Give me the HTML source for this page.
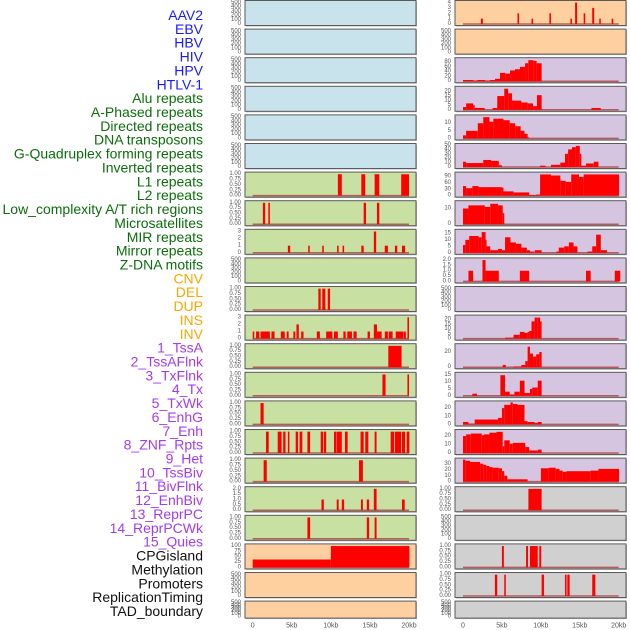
<!DOCTYPE html>
<html><head><meta charset="utf-8"><style>
html,body{margin:0;padding:0;background:#fff;}
svg{display:block;font-family:"Liberation Sans",sans-serif;}
</style></head><body>
<svg id="chart" width="630" height="630" viewBox="0 0 630 630" xmlns="http://www.w3.org/2000/svg"></svg>
<script>
// ---------- data ----------
const labelNames = ["AAV2","EBV","HBV","HIV","HPV","HTLV-1","Alu repeats","A-Phased repeats","Directed repeats","DNA transposons","G-Quadruplex forming repeats","Inverted repeats","L1 repeats","L2 repeats","Low_complexity A/T rich regions","Microsatellites","MIR repeats","Mirror repeats","Z-DNA motifs","CNV","DEL","DUP","INS","INV","1_TssA","2_TssAFlnk","3_TxFlnk","4_Tx","5_TxWk","6_EnhG","7_Enh","8_ZNF_Rpts","9_Het","10_TssBiv","11_BivFlnk","12_EnhBiv","13_ReprPC","14_ReprPCWk","15_Quies","CPGisland","Methylation","Promoters","ReplicationTiming","TAD_boundary"];
const labelGroups = [0,0,0,0,0,0,1,1,1,1,1,1,1,1,1,1,1,1,1,2,2,2,2,2,3,3,3,3,3,3,3,3,3,3,3,3,3,3,3,4,4,4,4,4];
const xTickValues = [0,5,10,15,20];
const xTickLabels = ["0","5kb","10kb","15kb","20kb"];

const ticks500 = [0,100,200,300,400,500];
const ticks1 = [0,0.25,0.5,0.75,1];
const ticks1Labels = ["0.00","0.25","0.50","0.75","1.00"];
const ticks3 = [0,1,2,3];
const ticks2 = [0,0.5,1,1.5,2];
const ticks2Labels = ["0.0","0.5","1.0","1.5","2.0"];

// left column segments [startKb, endKb, value]
const leftL1 = [[10.9,11.4,1],[13.9,14.4,1],[15.6,16.2,1],[19.0,20.0,1]];
const leftL2 = [[1.3,1.6,1],[2.0,2.2,1],[14.2,14.5,1],[15.9,16.2,1]];
const leftLowComplex = [[4.5,4.8,1],[7.1,7.3,1],[8.9,9.1,1],[10.8,11.0,1],[11.5,11.7,1],[13.9,14.2,1],[15.5,15.8,3],[16.9,17.3,1],[18.2,18.5,1],[19.1,19.5,1]];
const leftMIR = [[8.4,8.7,1],[8.9,9.3,1],[9.6,9.9,1]];
const leftMirror = [[0,0.2,1],[0.43,0.85,1],[1.0,2.2,1],[2.4,2.8,1],[3.6,4.1,1],[4.35,4.6,1],[5.2,5.45,1],[5.6,5.9,2],[6.2,6.5,1],[8.2,8.6,1],[9.4,10.2,1],[10.4,10.9,1],[11.6,11.9,1],[12.1,12.7,1],[12.9,13.3,1],[14.7,15.0,1],[15.5,15.9,2],[15.9,16.5,1],[16.9,17.3,1],[17.4,17.9,1],[18.3,19.3,1],[19.35,19.6,1],[19.8,20.0,3]];
const leftTssA = [[17.35,19.05,1]];
const leftTssAFlnk = [[16.6,17.0,1],[19.8,20.0,1]];
const leftTxFlnk = [[1.0,1.4,1]];
const leftTx = [[1.7,2.05,1],[3.2,3.7,1],[3.9,4.2,1],[4.5,4.7,1],[5.5,5.8,1],[6.0,6.35,1],[7.0,7.35,1],[8.7,9.0,1],[9.1,9.4,1],[10.4,10.7,1],[10.75,11.4,1],[11.8,12.15,1],[13.8,14.2,1],[14.4,14.8,1],[15.6,15.85,1],[17.65,18.1,1],[18.2,19.0,1],[19.1,19.5,1],[19.7,20.05,1]];
const leftTxWk = [[1.4,1.8,1],[13.6,14.1,1]];
const leftEnhG = [[8.8,9.1,1],[10.75,11.0,1],[11.4,11.7,1],[13.85,14.1,1],[14.6,14.9,1],[15.5,15.85,2],[19.1,19.45,1]];
const leftEnh = [[7.0,7.35,1],[14.6,14.9,1],[15.6,15.85,1]];
const leftZNF = [[0,10,37],[10,20.05,100]];

// right column segments
const rightAAV2 = [[2.3,2.55,1],[7.0,7.2,2],[8.8,9.0,1],[11.1,11.3,2],[13.8,14.0,1],[14.4,14.65,4],[15.5,15.7,2],[16.6,16.85,3],[17.5,17.7,1],[19.1,19.3,1]];
const rightHIV = [[0,1.33,5],[1.33,1.84,3],[1.84,2.83,5],[2.83,3.47,3],[3.47,4.11,5],[4.11,4.75,10],[4.75,5.4,35],[5.4,6.04,32],[6.04,6.68,45],[6.68,7.32,50],[7.32,7.97,60],[7.97,8.39,75],[8.39,9.04,88],[9.04,9.46,85],[9.46,10.1,75]];
const rightHPV = [[0,0.4,3],[0.4,1.3,7],[1.3,1.5,5],[1.5,2.8,2],[3.8,4.4,2],[4.4,5.3,15],[5.3,5.8,23],[5.8,6.3,18],[6.3,7.5,10],[7.5,8.3,8],[8.3,9.0,7],[9.0,9.5,4],[9.5,10.1,16],[16.5,17.7,2]];
const rightAlu = [[0,0.4,2],[0.4,1.9,5],[1.9,2.6,10],[2.6,3.4,14],[3.4,3.9,11],[3.9,5.2,13],[5.2,6.0,12],[6.0,6.7,10],[6.7,7.4,8],[7.4,7.9,5],[7.9,8.3,3],[8.3,8.4,1]];
const rightDirected = [[0,0.4,12],[0.4,2.6,9],[2.6,3.6,16],[3.6,4.6,14],[4.6,5.0,4],[9.9,10.6,3],[11.3,12.5,5],[12.5,13.1,10],[13.1,13.5,30],[13.5,14.0,40],[14.0,14.5,45],[14.5,15.0,48],[15.0,15.2,30],[15.2,15.8,3],[15.8,16.8,8],[16.8,17.4,12]];
const rightGQuad = [[0,0.4,45],[0.4,1.2,35],[1.2,2.0,45],[2.0,5.0,40],[5.0,5.2,38],[5.2,6.5,20],[6.5,8.5,15],[8.5,9.4,3],[9.4,9.9,5],[9.9,11.3,100],[11.3,12.5,95],[12.5,13.2,70],[13.2,13.9,65],[13.9,14.9,100],[14.9,15.5,88],[15.5,20.05,100]];
const rightLowComplex = [[0,0.7,10],[0.7,2.8,12],[2.8,3.5,11],[3.5,4.5,13],[4.5,5.1,12],[5.1,5.3,7]];
const rightMIR = [[0,0.3,6],[0.3,0.8,10],[0.8,2.0,13],[2.0,2.4,12],[2.4,2.9,16],[2.9,3.0,10],[3.0,3.5,5],[3.5,4.5,2],[4.5,5.0,3],[5.0,5.4,2],[5.4,6.1,12],[6.1,6.8,8],[6.8,7.5,7],[7.5,8.2,4],[8.2,8.6,2],[8.6,9.1,1],[9.2,10.1,2],[12.0,12.3,1],[12.3,13.0,4],[13.0,13.6,5],[13.6,14.2,8],[14.2,14.7,5],[16.0,16.6,1],[16.6,17.1,5],[17.1,17.7,14],[17.7,18.5,2]];
const rightZDNA = [[0.7,1.3,1],[2.5,2.9,2],[2.9,4.6,1],[7.3,8.5,1],[15.8,16.4,1],[19.5,20.2,1]];
const rightINS = [[5.4,5.9,1],[5.9,6.5,1],[6.5,7.3,4],[7.3,7.9,7],[7.9,8.3,6],[8.3,8.5,7],[8.5,8.8,8],[8.8,9.2,18],[9.2,9.6,22],[9.6,9.9,22],[9.9,10.1,18]];
const rightINV = [[5.1,5.5,3],[6.5,7.5,1],[7.5,8.0,3],[8.0,8.3,8],[8.3,8.6,27],[8.6,9.0,18],[9.0,9.4,14],[9.4,9.8,17],[9.8,10.1,20]];
const rightTssAFlnk = [[1.2,1.8,1.5],[4.8,5.4,15],[5.4,6.0,3],[6.0,6.6,1],[6.6,7.3,3],[7.3,7.9,11],[7.9,8.6,2],[8.6,8.9,5],[8.9,9.6,6],[9.6,10.1,11]];
const rightTxFlnk = [[0,0.7,3],[0.7,1.5,1],[1.5,4.5,6],[4.5,5.0,8],[5.0,5.3,20],[5.3,6.1,24],[6.1,6.4,27],[6.4,7.0,25],[7.0,7.9,24],[7.9,8.3,4],[8.3,9.2,3],[9.2,9.6,2],[9.6,10.1,3]];
const rightTx = [[0,0.4,20],[0.4,1.0,22],[1.0,2.4,23],[2.4,2.7,21],[2.7,3.4,22],[3.4,4.3,24],[4.3,5.1,25],[5.1,5.3,8],[5.3,6.0,15],[6.0,6.4,11],[6.4,8.0,12],[8.0,8.5,7],[8.5,9.6,3],[9.6,10.1,4]];
const rightTxWk = [[0,0.3,38],[0.3,0.9,36],[0.9,2.2,34],[2.2,2.6,31],[2.6,3.0,29],[3.0,3.4,27],[3.4,3.8,25],[3.8,4.6,24],[4.6,5.0,23],[5.0,5.3,18],[5.3,5.7,10],[5.7,8.3,4],[10.0,11.0,23],[11.0,11.9,24],[11.9,12.4,22],[12.4,12.8,19],[12.8,13.3,17],[13.3,16.4,18],[16.4,17.4,19],[17.4,20.05,22]];
const rightEnhG = [[8.4,10.1,1]];
const rightZNF = [[5.0,5.25,1],[8.1,8.35,1],[8.6,9.6,1],[9.8,10.05,1]];
const rightHet = [[4.1,4.4,1],[5.3,5.5,1],[10.1,10.4,1],[13.1,13.3,1],[13.4,13.7,1],[16.6,17.0,1]];

// ---------- config (structure, not data values) ----------
const BLUE="#c8e3eb", GREEN="#c8e1a3", PEACH="#ffd09f", LAV="#d6c5e1", GREY="#d0d0d0";
const E500 = {ticks:ticks500, tl:null, dmax:520, seg:null};
const leftPanels = [
 {...E500,bg:BLUE,n:"aav2"},{...E500,bg:BLUE,n:"ebv"},{...E500,bg:BLUE,n:"hbv"},{...E500,bg:BLUE,n:"hiv"},{...E500,bg:BLUE,n:"hpv"},{...E500,bg:BLUE,n:"htlv"},
 {bg:GREEN,ticks:ticks1,tl:ticks1Labels,dmax:1.03,seg:leftL1,n:"l1"},
 {bg:GREEN,ticks:ticks1,tl:ticks1Labels,dmax:1.03,seg:leftL2,n:"l2"},
 {bg:GREEN,ticks:ticks3,tl:null,dmax:3.1,seg:leftLowComplex,n:"low-complexity"},
 {...E500,bg:GREEN,n:"microsatellites"},
 {bg:GREEN,ticks:ticks1,tl:ticks1Labels,dmax:1.03,seg:leftMIR,n:"mir"},
 {bg:GREEN,ticks:ticks3,tl:null,dmax:3.1,seg:leftMirror,n:"mirror"},
 {bg:GREEN,ticks:ticks1,tl:ticks1Labels,dmax:1.03,seg:leftTssA,n:"tssa"},
 {bg:GREEN,ticks:ticks1,tl:ticks1Labels,dmax:1.03,seg:leftTssAFlnk,n:"tssaflnk"},
 {bg:GREEN,ticks:ticks1,tl:ticks1Labels,dmax:1.03,seg:leftTxFlnk,n:"txflnk"},
 {bg:GREEN,ticks:ticks1,tl:ticks1Labels,dmax:1.03,seg:leftTx,n:"tx"},
 {bg:GREEN,ticks:ticks1,tl:ticks1Labels,dmax:1.03,seg:leftTxWk,n:"txwk"},
 {bg:GREEN,ticks:ticks2,tl:ticks2Labels,dmax:2.06,seg:leftEnhG,n:"enhg"},
 {bg:GREEN,ticks:ticks1,tl:ticks1Labels,dmax:1.03,seg:leftEnh,n:"enh"},
 {bg:PEACH,ticks:[0,25,50,75,100],tl:null,dmax:103,seg:leftZNF,n:"znf"},
 {...E500,bg:PEACH,n:"promoters"},
 {...E500,bg:PEACH,n:"tad"}
];
const rightPanels = [
 {bg:PEACH,ticks:[0,1,2,3,4],tl:null,dmax:4.1,seg:rightAAV2,n:"aav2"},
 {...E500,bg:PEACH,n:"ebv"},
 {bg:LAV,ticks:[0,20,40,60,80],tl:null,dmax:92,seg:rightHIV,n:"hiv"},
 {bg:LAV,ticks:[0,5,10,15,20],tl:null,dmax:24,seg:rightHPV,n:"hpv"},
 {bg:LAV,ticks:[0,5,10],tl:null,dmax:14.5,seg:rightAlu,n:"alu"},
 {bg:LAV,ticks:[0,10,20,30,40,50],tl:null,dmax:50,seg:rightDirected,n:"directed"},
 {bg:LAV,ticks:[0,30,60,90],tl:null,dmax:104,seg:rightGQuad,n:"gquad"},
 {bg:LAV,ticks:[0,10],tl:null,dmax:14,seg:rightLowComplex,n:"low-complexity"},
 {bg:LAV,ticks:[0,5,10,15],tl:null,dmax:17,seg:rightMIR,n:"mir"},
 {bg:LAV,ticks:ticks2,tl:ticks2Labels,dmax:2.06,seg:rightZDNA,n:"zdna"},
 {...E500,bg:LAV,n:"del"},
 {bg:LAV,ticks:[0,5,10,15,20],tl:null,dmax:23,seg:rightINS,n:"ins"},
 {bg:LAV,ticks:[0,20],tl:null,dmax:29,seg:rightINV,n:"inv"},
 {bg:LAV,ticks:[0,5,10,15],tl:null,dmax:16,seg:rightTssAFlnk,n:"tssaflnk"},
 {bg:LAV,ticks:[0,10,20],tl:null,dmax:27,seg:rightTxFlnk,n:"txflnk"},
 {bg:LAV,ticks:[0,10,20],tl:null,dmax:26,seg:rightTx,n:"tx"},
 {bg:LAV,ticks:[0,10,20,30],tl:null,dmax:38,seg:rightTxWk,n:"txwk"},
 {bg:GREY,ticks:ticks1,tl:ticks1Labels,dmax:1.03,seg:rightEnhG,n:"enhg"},
 {...E500,bg:GREY,n:"enh"},
 {bg:GREY,ticks:ticks1,tl:ticks1Labels,dmax:1.03,seg:rightZNF,n:"znf"},
 {bg:GREY,ticks:ticks1,tl:ticks1Labels,dmax:1.03,seg:rightHet,n:"het"},
 {...E500,bg:GREY,n:"tad"}
];

// ---------- drawing ----------
const NS="http://www.w3.org/2000/svg";
const svg=document.getElementById('chart');
function mk(tag,attrs,parent){const e=document.createElementNS(NS,tag);for(const k in attrs)e.setAttribute(k,attrs[k]);(parent||svg).appendChild(e);return e;}
const groupColors=["#1a1aff","#0b6e0b","#ffa500","#a23cf0","#111111"];

labelNames.forEach((t,i)=>{
  const el=mk('text',{x:203,y:15+i*13.86,'text-anchor':'end','dominant-baseline':'central','font-size':'14',fill:groupColors[labelGroups[i]]});
  
  
  el.textContent=t;
});

function rowTop(i){return 0.5+i*28.6;}
function rowH(i){return i===21?17:25;}

function drawColumn(panels,x0,x1,zeroPx,px20,col){
  const xs=kb=>zeroPx+(px20-zeroPx)*kb/20;
  panels.forEach((p,i)=>{
    const top=rowTop(i),h=rowH(i),bot=top+h;
    const g=mk('g',{});
    
    
    mk('rect',{x:x0+1,y:top+1,width:x1-x0,height:h,fill:'#bbb'},g);
    const bg=mk('rect',{x:x0,y:top,width:x1-x0,height:h,fill:p.bg,stroke:'#5a5a5a','stroke-width':1},g);
    
    
    const ys=v=>bot-1.5-(v/p.dmax)*(h-3);
    // y ticks
    p.ticks.forEach((tv,k)=>{
      const t=mk('text',{x:x0-4,y:ys(tv),'text-anchor':'end','dominant-baseline':'central','font-size':'6',fill:'#555'},g);
      
      
      t.textContent=p.tl?p.tl[k]:String(tv);
    });
    if(p.seg){
      mk('line',{x1:xs(0),x2:xs(20),y1:bot-1.5,y2:bot-1.5,stroke:'#b04040','stroke-width':1.5,opacity:0.8},g);
      p.seg.forEach(s=>{
        const r=mk('rect',{x:xs(s[0]),y:ys(s[2]),width:Math.max(xs(s[1])-xs(s[0]),1),height:bot-1.5-ys(s[2]),fill:'#ff0000'},g);
        
        
      });
    }
  });
  xTickValues.forEach((v,k)=>{
    const t=mk('text',{x:xs(v),y:626,'text-anchor':'middle','dominant-baseline':'central','font-size':'7',fill:'#555'});
    
    
    t.textContent=xTickLabels[k];
  });
}
drawColumn(leftPanels,245,416,252.7,409,'left');
drawColumn(rightPanels,455,626,463,618.7,'right');
</script>
</body></html>
